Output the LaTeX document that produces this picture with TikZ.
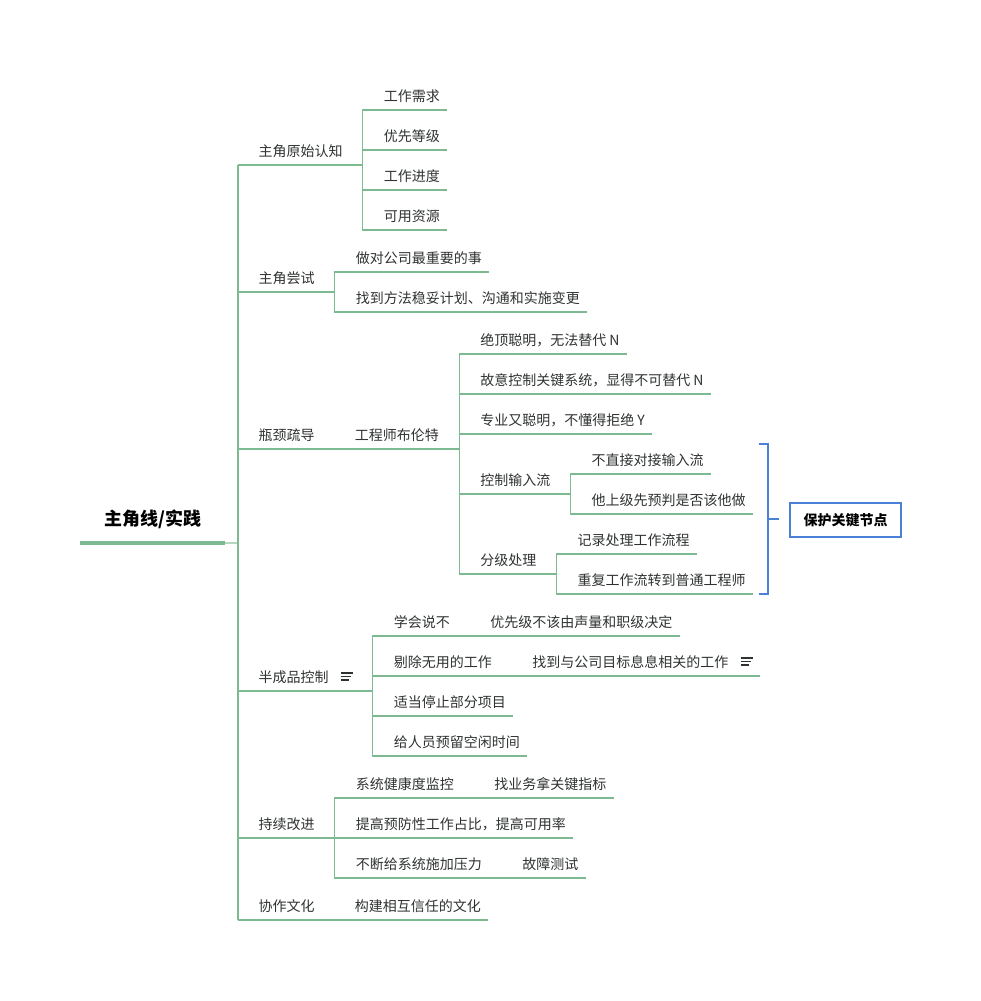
\documentclass[tikz,border=0pt]{standalone}
\usepackage{fontspec}
\setmainfont{Noto Sans CJK SC}
\usetikzlibrary{calc}
\definecolor{branch}{RGB}{125,186,145}
\definecolor{branchlight}{RGB}{178,216,189}
\definecolor{ink}{RGB}{46,50,48}
\definecolor{summary}{RGB}{74,128,214}
\begin{document}
\begin{tikzpicture}[x=1pt,y=-1pt,
    topic/.style={anchor=south west,inner xsep=7pt,inner ysep=7pt,text height=11pt,text depth=1.5pt,
      font=\fontsize{14}{16}\selectfont,text=ink},
    link/.style={draw=branch,line width=1.2pt},
    noteicon/.style={draw=ink,line width=1.2pt}]
    \useasboundingbox (0,0) rectangle (981,1001);
    % root
    \node[anchor=south west,inner xsep=24pt,inner ysep=13pt,text height=14pt,text depth=4pt,
      font=\bfseries\fontsize{18}{20}\selectfont,text=black] (rt) at (80,543) {主角线/实践};
    \draw[branch,line width=4.5pt] (rt.south west) -- (rt.south east);
    \coordinate (rt-e) at ($(rt.south east)+(13,0)$);
    % main branches
    \foreach \n/\dy/\txt in {t1/-378/主角原始认知,t2/-251/主角尝试,t3/-94/瓶颈疏导,
        t4/148/半成品控制\kern24pt,t5/295/持续改进,t6/377/协作文化} {
        \node[topic] (\n) at ($(rt-e)+(13,\dy)$) {\txt};
        \draw[link] (rt-e) |- (\n.south west) -- (\n.south east);
    }
    \draw[branchlight,line width=2pt] (rt.south east) -- (rt-e);
    \draw[branch,line width=2pt] (rt-e |- t1.south) -- (rt-e |- t6.south);
    % 主角原始认知
    \foreach \n/\dy/\txt in {a1/-55/工作需求,a2/-15/优先等级,a3/25/工作进度,a4/65/可用资源} {
        \node[topic] (\n) at ($(t1.south east)+(27,\dy)$) {\txt};
        \draw[link] (t1.south east) -- ++(13,0) |- (\n.south west) -- (\n.south east);
    }
    % 主角尝试
    \foreach \n/\dy/\txt in {b1/-20/做对公司最重要的事,b2/20/找到方法稳妥计划、沟通和实施变更} {
        \node[topic] (\n) at ($(t2.south east)+(27,\dy)$) {\txt};
        \draw[link] (t2.south east) -- ++(13,0) |- (\n.south west) -- (\n.south east);
    }
    % 瓶颈疏导
    \node[topic] (c0) at ($(t3.south east)+(26,0)$) {工程师布伦特};
    \draw[link] (t3.south east) -- (c0.south west) -- (c0.south east);
    \foreach \n/\dy/\txt in {c1/-95/绝顶聪明，无法替代 N,c2/-55/故意控制关键系统，显得不可替代 N,
        c3/-15/专业又聪明，不懂得拒绝 Y,c4/45/控制输入流,c5/125/分级处理} {
        \node[topic] (\n) at ($(c0.south east)+(27,\dy)$) {\txt};
        \draw[link] (c0.south east) -- ++(13,0) |- (\n.south west) -- (\n.south east);
    }
    \foreach \n/\dy/\txt in {d1/-20/不直接对接输入流,d2/20/他上级先预判是否该他做} {
        \node[topic] (\n) at ($(c4.south east)+(27,\dy)$) {\txt};
        \draw[link] (c4.south east) -- ++(13,0) |- (\n.south west) -- (\n.south east);
    }
    \foreach \n/\dy/\txt in {e1/-20/记录处理工作流程,e2/20/重复工作流转到普通工程师} {
        \node[topic] (\n) at ($(c5.south east)+(27,\dy)$) {\txt};
        \draw[link] (c5.south east) -- ++(13,0) |- (\n.south west) -- (\n.south east);
    }
    % summary bracket
    \coordinate (br-m) at (768,519);
    \draw[summary,line width=2pt] (759,444) -- (768,444) -- (768,594) -- (759,594);
    \draw[summary,line width=2pt] (br-m) -- ++(11,0);
    \node[draw=summary,line width=2pt,minimum width=111pt,minimum height=34pt,inner sep=0pt,
      font=\bfseries\fontsize{14}{16}\selectfont,text=black] (sm) at (845.5,520) {保护关键节点};
    % 半成品控制
    \foreach \n/\dy/\txt in {f1/-55/学会说不,f2/-15/剔除无用的工作,f3/25/适当停止部分项目,f4/65/给人员预留空闲时间} {
        \node[topic] (\n) at ($(t4.south east)+(27,\dy)$) {\txt};
        \draw[link] (t4.south east) -- ++(13,0) |- (\n.south west) -- (\n.south east);
    }
    \node[topic] (f1a) at ($(f1.south east)+(26,0)$) {优先级不该由声量和职级决定};
    \draw[link] (f1.south east) -- (f1a.south west) -- (f1a.south east);
    \node[topic] (f2a) at ($(f2.south east)+(26,0)$) {找到与公司目标息息相关的工作\kern24pt};
    \draw[link] (f2.south east) -- (f2a.south west) -- (f2a.south east);
    % note icons
    \foreach \n in {t4,f2a} {
        \draw[noteicon] ($(\n.south east)+(-19,-18)$) -- ++(12,0)
            ($(\n.south east)+(-19,-14.5)$) -- ++(10,0)
            ($(\n.south east)+(-19,-11)$) -- ++(8,0);
    }
    % 持续改进
    \foreach \n/\dy/\txt in {g1/-40/系统健康度监控,g2/0/提高预防性工作占比，提高可用率,g3/40/不断给系统施加压力} {
        \node[topic] (\n) at ($(t5.south east)+(27,\dy)$) {\txt};
        \draw[link] (t5.south east) -- ++(13,0) |- (\n.south west) -- (\n.south east);
    }
    \node[topic] (g1a) at ($(g1.south east)+(26,0)$) {找业务拿关键指标};
    \draw[link] (g1.south east) -- (g1a.south west) -- (g1a.south east);
    \node[topic] (g3a) at ($(g3.south east)+(26,0)$) {故障测试};
    \draw[link] (g3.south east) -- (g3a.south west) -- (g3a.south east);
    % 协作文化
    \node[topic] (h1) at ($(t6.south east)+(26,0)$) {构建相互信任的文化};
    \draw[link] (t6.south east) -- (h1.south west) -- (h1.south east);
\end{tikzpicture}
\end{document}
